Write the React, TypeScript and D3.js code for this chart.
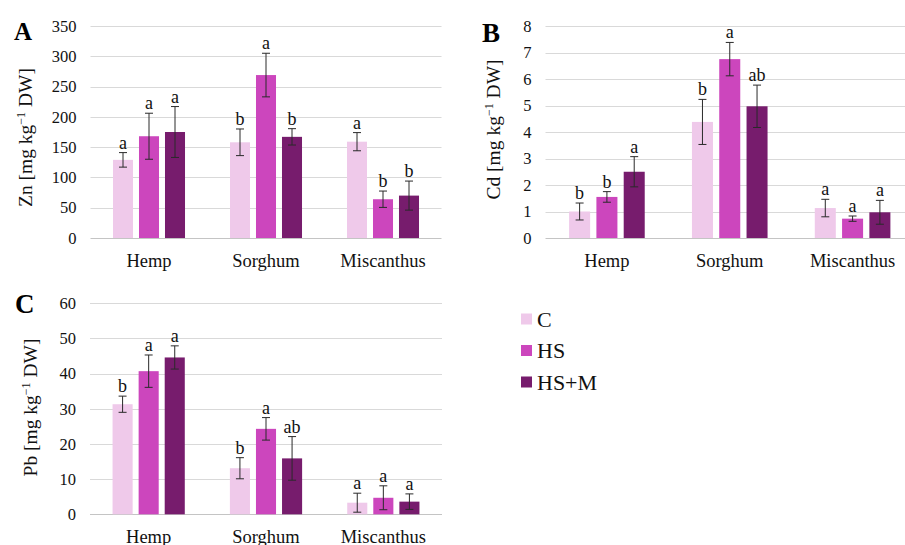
import { useEffect } from 'react';
import * as d3 from 'd3';

const categories = ['Hemp', 'Sorghum', 'Miscanthus'];
const treatments = ['C', 'HS', 'HS+M'];
const colors = ['#efc9ea', '#cc46bd', '#771c6d'];

// rows = category, columns = C, HS, HS+M
const znMean = [[129, 168, 175], [158, 269, 167], [159, 64, 70]];
const znErr = [[12, 38, 42], [22, 36, 13.5], [15, 13.5, 24]];
const znLetters = [['a', 'a', 'a'], ['b', 'a', 'b'], ['a', 'b', 'b']];

const cdMean = [[1.0, 1.55, 2.5], [4.38, 6.75, 4.97], [1.13, 0.73, 0.97]];
const cdErr = [[0.32, 0.2, 0.57], [0.85, 0.63, 0.8], [0.33, 0.1, 0.45]];
const cdLetters = [['b', 'b', 'a'], ['b', 'a', 'ab'], ['a', 'a', 'a']];

const pbMean = [[31.3, 40.7, 44.6], [13.1, 24.3, 15.9], [3.3, 4.7, 3.6]];
const pbErr = [[2.3, 4.6, 3.3], [3, 3.2, 6.2], [2.7, 3.4, 2.2]];
const pbLetters = [['b', 'a', 'a'], ['b', 'a', 'ab'], ['a', 'a', 'a']];

const FONT = "'Liberation Serif', 'Times New Roman', 'DejaVu Serif', serif";

interface PanelProps {
  tag: string;
  tagX: number;
  tagY: number;
  tagSize: number;
  element: string;
  mean: number[][];
  err: number[][];
  letters: string[][];
  yMax: number;
  yStep: number;
  x0: number;
  x1: number;
  y0: number;
  y1: number;
  labelX: number;
  labelY: number;
}

function Panel(p: PanelProps) {
  const x = d3.scaleBand<string>().domain(categories).range([p.x0, p.x1]).padding(0);
  const xi = d3
    .scaleBand<string>()
    .domain(treatments)
    .range([0, x.bandwidth()])
    .paddingInner(0.23)
    .paddingOuter(0.865);
  const y = d3.scaleLinear().domain([0, p.yMax]).range([p.y0, p.y1]);
  const ticks = d3.range(0, p.yMax + p.yStep / 2, p.yStep);

  return (
    <g style={{ fontFamily: FONT }}>
      <text x={p.tagX} y={p.tagY} fontSize={p.tagSize} fontWeight="bold" fill="#000">
        {p.tag}
      </text>
      {ticks.map((t) => (
        <g key={t}>
          <line
            x1={p.x0}
            x2={p.x1}
            y1={Math.round(y(t)) + 0.5}
            y2={Math.round(y(t)) + 0.5}
            stroke={t === 0 ? '#c4c4c4' : '#d9d9d9'}
            strokeWidth={1}
          />
          <text x={p.x0 - 14} y={y(t)} dy="0.35em" textAnchor="end" fontSize={16.5} fill="#111">
            {t}
          </text>
        </g>
      ))}
      <text
        transform={`translate(${p.labelX},${p.labelY}) rotate(-90)`}
        textAnchor="middle"
        dy="0.35em"
        fontSize={19.5}
        fill="#111"
      >
        {p.element} [mg kg
        <tspan dy={-7} fontSize={12}>
          −1
        </tspan>
        <tspan dy={7}> DW]</tspan>
      </text>
      {categories.map((c, ci) => (
        <g key={c}>
          {treatments.map((tr, ti) => {
            const v = p.mean[ci][ti];
            const e = p.err[ci][ti];
            const bx = (x(c) ?? 0) + (xi(tr) ?? 0);
            const cx = bx + xi.bandwidth() / 2;
            return (
              <g key={tr}>
                <rect x={bx} y={y(v)} width={xi.bandwidth()} height={p.y0 - y(v)} fill={colors[ti]} />
                <line x1={cx} x2={cx} y1={y(v + e)} y2={y(v - e)} stroke="#2a2a2a" strokeWidth={1} />
                <line x1={cx - 4} x2={cx + 4} y1={y(v + e)} y2={y(v + e)} stroke="#2a2a2a" strokeWidth={1} />
                <line x1={cx - 4} x2={cx + 4} y1={y(v - e)} y2={y(v - e)} stroke="#2a2a2a" strokeWidth={1} />
                <text x={cx} y={y(v + e) - 4} textAnchor="middle" fontSize={18} fill="#111">
                  {p.letters[ci][ti]}
                </text>
              </g>
            );
          })}
          <text
            x={(x(c) ?? 0) + x.bandwidth() / 2}
            y={p.y0 + 28.5}
            textAnchor="middle"
            fontSize={18.5}
            fill="#111"
          >
            {c}
          </text>
        </g>
      ))}
    </g>
  );
}

export default function App() {
  useEffect(() => {
    document.body.style.margin = '0';
  }, []);

  return (
    <svg width={905} height={545} style={{ display: 'block', background: '#fff' }}>
      <Panel
        tag="A"
        tagX={14}
        tagY={40}
        tagSize={25}
        element="Zn"
        mean={znMean}
        err={znErr}
        letters={znLetters}
        yMax={350}
        yStep={50}
        x0={90.5}
        x1={441.5}
        y0={238}
        y1={26}
        labelX={25}
        labelY={137.5}
      />
      <Panel
        tag="B"
        tagX={482}
        tagY={42}
        tagSize={27}
        element="Cd"
        mean={cdMean}
        err={cdErr}
        letters={cdLetters}
        yMax={8}
        yStep={1}
        x0={545.5}
        x1={914}
        y0={238}
        y1={26}
        labelX={493}
        labelY={129.5}
      />
      <Panel
        tag="C"
        tagX={15}
        tagY={313}
        tagSize={27}
        element="Pb"
        mean={pbMean}
        err={pbErr}
        letters={pbLetters}
        yMax={60}
        yStep={10}
        x0={90}
        x1={442}
        y0={514.3}
        y1={303.3}
        labelX={30}
        labelY={407.5}
      />
      <g style={{ fontFamily: FONT }}>
        {treatments.map((t, i) => {
          const cy = d3.scalePoint<string>().domain(treatments).range([319, 382])(t) ?? 0;
          return (
            <g key={t}>
              <rect x={521} y={cy - 5.5} width={11} height={11} fill={colors[i]} />
              <text x={537} y={cy} dy="0.35em" fontSize={22} fill="#111">
                {t}
              </text>
            </g>
          );
        })}
      </g>
    </svg>
  );
}
